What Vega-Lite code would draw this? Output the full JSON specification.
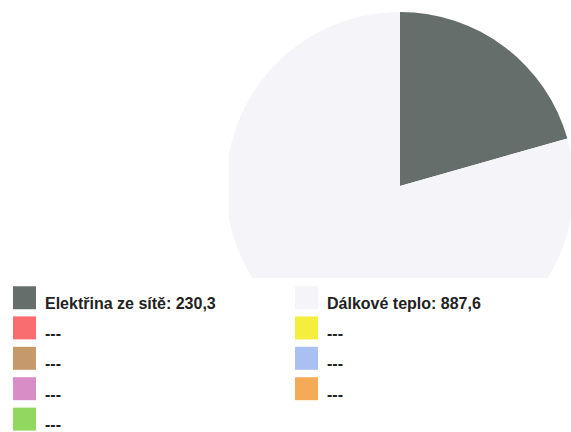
{
  "$schema": "https://vega.github.io/schema/vega-lite/v6.json",
  "width": 342,
  "height": 278,
  "padding": {"left": 229, "top": 0, "right": 0, "bottom": 154},
  "autosize": {"type": "none"},
  "background": "white",
  "data": {
    "values": [
      {"kat": "Elektřina ze sítě: 230,3", "hodnota": 230.3, "i": 1},
      {"kat": "Dálkové teplo: 887,6", "hodnota": 887.6, "i": 2},
      {"kat": "---1", "hodnota": 0, "i": 3},
      {"kat": "---2", "hodnota": 0, "i": 4},
      {"kat": "---3", "hodnota": 0, "i": 5},
      {"kat": "---4", "hodnota": 0, "i": 6},
      {"kat": "---5", "hodnota": 0, "i": 7},
      {"kat": "---6", "hodnota": 0, "i": 8},
      {"kat": "---7", "hodnota": 0, "i": 9}
    ]
  },
  "mark": {"type": "arc", "radius": 174, "yOffset": 47, "clip": true, "strokeWidth": 0},
  "encoding": {
    "theta": {"field": "hodnota", "type": "quantitative", "stack": true},
    "order": {"field": "i", "type": "quantitative"},
    "color": {
      "field": "kat",
      "type": "nominal",
      "sort": null,
      "scale": {
        "domain": ["Elektřina ze sítě: 230,3", "Dálkové teplo: 887,6", "---1", "---2", "---3", "---4", "---5", "---6", "---7"],
        "range": ["#666e6c", "#f5f5f9", "#f96c70", "#f6ee3c", "#c6996a", "#aac0f2", "#d98dc6", "#f5aa58", "#92d85e"]
      },
      "legend": {
        "title": null,
        "orient": "none",
        "legendX": -216,
        "legendY": 286,
        "columns": 2,
        "direction": "horizontal",
        "padding": 0,
        "symbolType": "square",
        "symbolSize": 529,
        "symbolStrokeWidth": 0,
        "rowPadding": 4.4,
        "columnPadding": 79,
        "labelOffset": 9,
        "labelFont": "Liberation Sans",
        "labelFontWeight": "bold",
        "labelFontSize": 16,
        "labelColor": "#222222",
        "labelLimit": 400,
        "labelExpr": "slice(datum.label,0,3)=='---' ? '---' : datum.label",
        "encode": {"labels": {"update": {"dy": {"value": 6}}}}
      }
    }
  }
}
